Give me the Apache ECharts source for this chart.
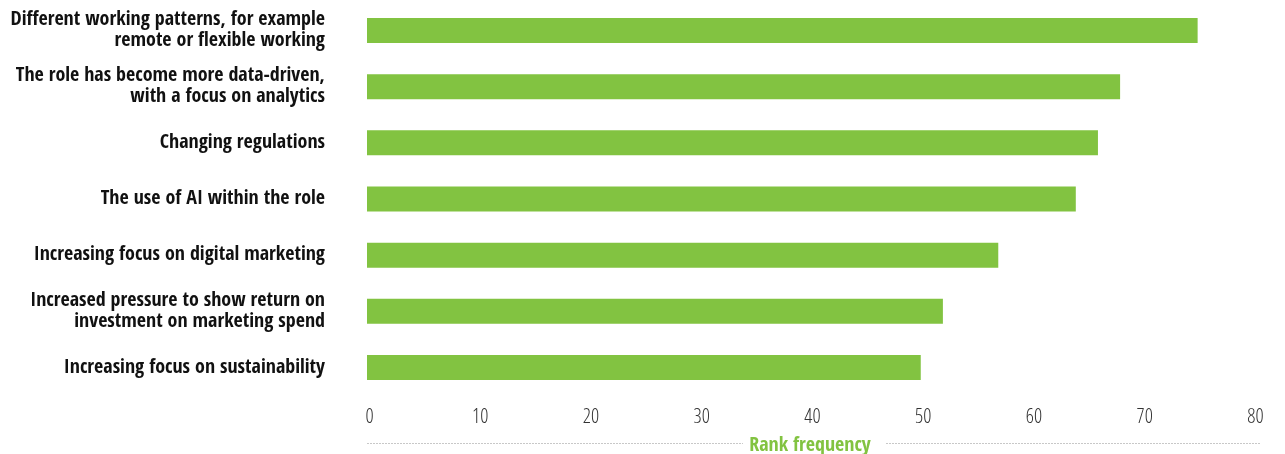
<!DOCTYPE html>
<html><head><meta charset="utf-8">
<script src="https://cdn.jsdelivr.net/npm/echarts@6/dist/echarts.min.js"></script>
<style>html,body{margin:0;padding:0;background:#fff}#c{width:1285px;height:454px}</style>
</head><body><div id="c"></div>
<script>
const categories = [
  "Different working patterns, for example\nremote or flexible working",
  "The role has become more data-driven,\nwith a focus on analytics",
  "Changing regulations",
  "The use of AI within the role",
  "Increasing focus on digital marketing",
  "Increased pressure to show return on\ninvestment on marketing spend",
  "Increasing focus on sustainability"
];
const rankFrequency = [75, 68, 66, 64, 57, 52, 50];
const xTicks = [0, 10, 20, 30, 40, 50, 60, 70, 80];
const axisTitle = "Rank frequency";

const green = '#82C341';
const dash = {stroke: '#c8c8c8', lineWidth: 1, lineDash: [2, 1]};
const chart = echarts.init(document.getElementById('c'), null, {renderer: 'canvas'});
chart.setOption({
  animation: false,
  grid: {left: 367, width: 886, top: 2.4, bottom: 58.4, containLabel: false, outerBoundsMode: 'none'},
  xAxis: [{
    type: 'value', min: xTicks[0], max: xTicks[xTicks.length - 1], interval: 10,
    splitLine: {show: false}, axisLine: {show: false}, axisTick: {show: false},
    axisLabel: {margin: 12, fontFamily: 'Open Sans', fontWeight: '300 condensed', fontSize: 20, color: '#333',
      padding: [0, 0, 0, 5]}
  }, {
    type: 'value', min: xTicks[0], max: xTicks[xTicks.length - 1], position: 'bottom', offset: 48,
    axisLine: {show: false}, axisTick: {show: false}, axisLabel: {show: false}, splitLine: {show: false},
    name: axisTitle, nameLocation: 'middle', nameGap: -8,
    nameTextStyle: {fontFamily: 'Open Sans Condensed', fontWeight: 'bold', fontSize: 20, color: green}
  }],
  yAxis: {
    type: 'category', data: categories, inverse: true,
    axisLine: {show: false}, axisTick: {show: false},
    axisLabel: {margin: 42, fontFamily: 'Open Sans Condensed', fontWeight: 'bold', fontSize: 20,
      lineHeight: 21, color: '#111', align: 'right'}
  },
  series: [{
    type: 'bar', data: rankFrequency, barWidth: 25, xAxisIndex: 0,
    itemStyle: {color: green}
  }],
  graphic: [
    {type: 'line', shape: {x1: 367, y1: 443.5, x2: 743, y2: 443.5}, style: dash, silent: true},
    {type: 'line', shape: {x1: 886, y1: 443.5, x2: 1260, y2: 443.5}, style: dash, silent: true}
  ]
});
</script></body></html>
